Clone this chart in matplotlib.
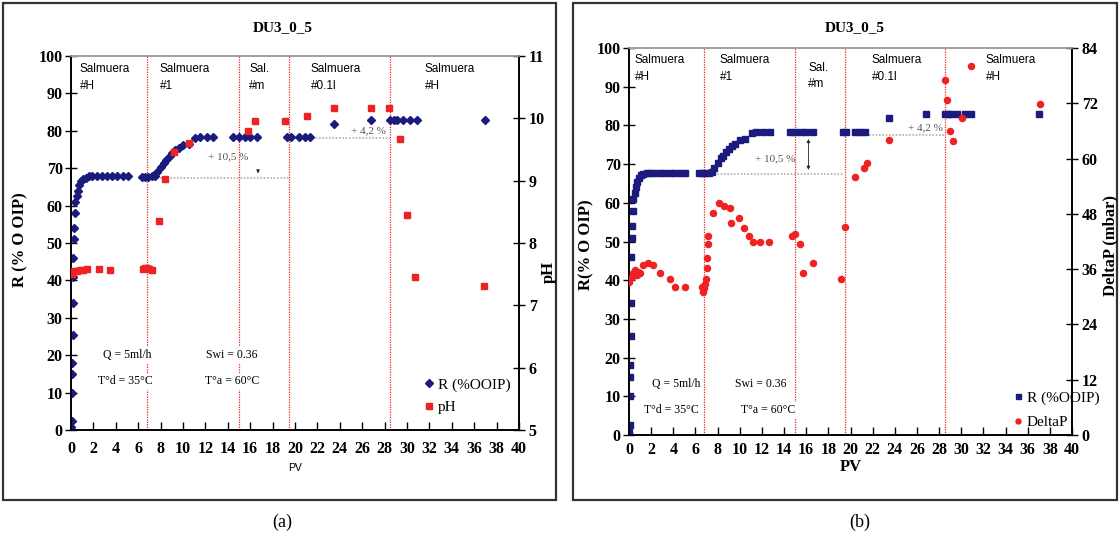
import matplotlib
matplotlib.use("Agg")
import matplotlib.pyplot as plt
from matplotlib.patches import Rectangle
from matplotlib.lines import Line2D

# ---------------- data ----------------
# Oil recovery R (%OOIP) vs injected pore volumes
pv_r = [0.0, 0.02, 0.05, 0.08, 0.1, 0.12, 0.15, 0.18, 0.2, 0.22, 0.25, 0.3, 0.35,
        0.4, 0.5, 0.6, 0.75, 0.9, 1.1, 1.3, 1.6, 1.9, 2.3, 2.8, 3.2, 3.7, 4.1, 4.6, 5.1,
        6.3, 6.6, 6.9, 7.2, 7.5, 7.7, 8.0, 8.3, 8.5, 8.8, 9.0, 9.3, 9.6, 10.0, 10.5,
        11.1, 11.5, 12.1, 12.7,
        14.5, 15.0, 15.5, 16.0, 16.6,
        19.3, 19.6, 20.4, 20.9, 21.3,
        23.5, 26.8, 28.5, 28.8, 29.1, 29.6, 30.3, 30.9, 37.0]
r_ooip = [0.0, 0.8, 2.5, 10.0, 15.0, 18.0, 25.5, 34.0, 41.0, 46.0, 51.0, 54.0, 58.0,
          61.0, 62.5, 64.0, 65.5, 66.5, 67.2, 67.5, 67.8, 67.8, 67.8, 67.8, 67.8, 67.8, 67.8, 67.8, 67.8,
          67.6, 67.6, 67.7, 67.8, 68.0, 69.0, 70.4, 71.5, 72.2, 73.2, 74.0, 74.8, 75.3, 76.2, 76.6,
          78.0, 78.3, 78.3, 78.3,
          78.4, 78.4, 78.4, 78.4, 78.4,
          78.4, 78.4, 78.4, 78.4, 78.4,
          81.8, 82.9, 82.9, 82.9, 82.9, 82.9, 82.9, 82.9, 82.9]

# Effluent pH
pv_ph = [0.1, 0.3, 0.5, 0.8, 1.1, 1.4, 2.5, 3.5, 6.4, 6.6, 6.8, 7.0, 7.2,
         7.9, 8.4, 9.2, 10.5, 15.8, 16.4, 19.1, 21.1, 23.5, 26.8, 28.4,
         29.4, 30.0, 30.7, 36.9]
ph = [7.50, 7.55, 7.55, 7.56, 7.57, 7.58, 7.58, 7.56, 7.58, 7.60, 7.60, 7.58, 7.56,
      8.35, 9.02, 9.46, 9.60, 9.80, 9.95, 9.95, 10.03, 10.17, 10.17, 10.17,
      9.67, 8.45, 7.45, 7.31]

# Pressure drop DeltaP (mbar)
pv_dp = [0.03, 0.24, 0.39, 0.54, 0.69, 0.84, 0.99, 1.29, 1.74, 2.19, 2.80, 3.70, 4.15, 5.06,
         6.6, 6.7, 6.8, 6.9, 6.95, 7.0, 7.0, 7.1, 7.1,
         7.6, 8.1, 8.6, 9.1, 9.2, 9.9, 10.4, 10.8, 11.2, 11.8, 12.6,
         14.7, 15.0, 15.4, 15.7, 16.6,
         19.1, 19.5, 20.4, 21.2, 21.5, 23.5,
         28.5, 28.7, 29.0, 29.3, 30.1, 30.9, 37.1]
delta_p = [33.3, 34.4, 35.1, 35.9, 34.7, 35.4, 35.1, 37.0, 37.3, 37.0, 35.1, 33.9, 32.1, 32.1,
           32.1, 31.0, 31.8, 32.8, 33.9, 36.2, 38.5, 41.4, 43.3,
           48.2, 50.4, 49.7, 49.3, 46.0, 47.1, 45.0, 43.1, 42.0, 42.0, 42.0,
           43.3, 43.7, 41.4, 35.1, 37.3,
           33.9, 45.2, 56.0, 57.9, 59.0, 64.0,
           77.0, 72.7, 66.0, 63.9, 68.7, 80.0, 71.8]

# Brine stage boundaries (PV) and stage names
stage_bounds = [6.8, 15.0, 19.5, 28.5]
stage_names = ["Salmuera\n#H", "Salmuera\n#1", "Sal.\n#m", "Salmuera\n#0.1l", "Salmuera\n#H"]

x_ticks = list(range(0, 41, 2))
r_ticks = list(range(0, 101, 10))
ph_ticks = [5, 6, 7, 8, 9, 10, 11]
dp_ticks = [0, 12, 24, 36, 48, 60, 72, 84]

# ---------------- styling ----------------
W, H = 1120, 537
BLUE = "#1b1b7d"
RED = "#ee2222"
SERIF = "Liberation Serif"
SANS = "Liberation Sans"

fig = plt.figure(figsize=(W / 100, H / 100), dpi=100)
fig.patch.set_facecolor("white")


def fx(px):
    return px / W


def fy(py):
    return 1 - py / H


# panel frames
for x0, x1 in [(3, 556), (573, 1117)]:
    fig.patches.append(Rectangle((fx(x0), fy(500)), fx(x1) - fx(x0), fy(3) - fy(500),
                                 transform=fig.transFigure, fill=False,
                                 edgecolor="#333333", linewidth=1.6, zorder=0))


def style_axes(ax, ax2, right_ticks, xpad):
    ax.set_xlim(0, 40)
    ax.set_ylim(0, 100)
    ax.set_xticks(x_ticks)
    ax.set_yticks(r_ticks)
    ax2.set_yticks(right_ticks)
    for a in (ax, ax2):
        a.spines["top"].set_color("#a0a0a0")
        a.spines["top"].set_linewidth(1.2)
        a.spines["left"].set_linewidth(1.2)
        a.spines["right"].set_linewidth(1.2)
        a.spines["bottom"].set_linewidth(1.2)
    ax.tick_params(axis="y", direction="inout", length=8, width=1, pad=2)
    ax.tick_params(axis="x", direction="in", length=6, width=1, pad=xpad)
    ax2.tick_params(axis="y", direction="inout", length=8, width=1, pad=3)
    for lab in ax.get_xticklabels() + ax.get_yticklabels() + ax2.get_yticklabels():
        lab.set_fontfamily(SERIF)
        lab.set_fontweight("bold")
        lab.set_fontsize(11.5)
    for b in stage_bounds:
        ax.axvline(b, color=RED, linestyle=(0, (1, 1)), linewidth=0.9, zorder=1)


def stage_labels(ax, xs, ytop):
    for x, name, y in zip(xs, stage_names, ytop):
        ax.text(x, y, name, fontfamily=SANS, fontsize=8.5, va="top", ha="left",
                linespacing=1.55, zorder=5)


def conditions(ax, xq, xs, y1, xt, y2):
    kw = dict(fontfamily=SERIF, fontsize=8.5, va="center", ha="left", zorder=6,
              bbox=dict(facecolor="white", edgecolor="none", pad=1.5))
    ax.text(xq[0], y1, "Q = 5ml/h", **kw)
    ax.text(xs, y1, "Swi = 0.36", **kw)
    ax.text(xt[0], y2, "T°d = 35°C", **kw)
    ax.text(xt[1], y2, "T°a = 60°C", **kw)


# ---------------- panel (a): R and pH ----------------
axa = fig.add_axes([fx(71), fy(430), fx(519) - fx(71), fy(56) - fy(430)])
axa2 = axa.twinx()
axa2.set_ylim(5, 11)
style_axes(axa, axa2, ph_ticks, 8)

axa.plot([6.8, 19.5], [67.5, 67.5], color="#b0b0b0", ls=(0, (1, 1)), lw=1.2, zorder=2)
axa.plot([19.5, 28.5], [78.2, 78.2], color="#b0b0b0", ls=(0, (1, 1)), lw=1.2, zorder=2)
axa.annotate("", xy=(16.7, 67.9), xytext=(16.7, 70.0),
             arrowprops=dict(arrowstyle="-|>", color="#222222", lw=0.5, mutation_scale=5))
axa.text(14.0, 73.0, "+ 10,5 %", fontfamily=SERIF, fontsize=8, color="#555555",
         ha="center", va="center", zorder=2)
axa.text(26.6, 80.0, "+ 4,2 %", fontfamily=SERIF, fontsize=8, color="#555555",
         ha="center", va="center", zorder=2)

axa.plot(pv_r, r_ooip, ls="none", marker="D", ms=3.6, color=BLUE, zorder=4,
         label="R (%OOIP)")
axa2.plot(pv_ph, ph, ls="none", marker="s", ms=5, color=RED, zorder=3, label="pH")

stage_labels(axa, [0.8, 7.9, 15.9, 21.4, 31.6], [98, 98, 98, 98, 98])
conditions(axa, [2.9], 12.05, 20.0, [2.4, 12.0], 13.0)

handles_a = [Line2D([], [], ls="none", marker="D", ms=3.6, color=BLUE),
             Line2D([], [], ls="none", marker="s", ms=4.5, color=RED)]
fig.legend(handles_a, ["R (%OOIP)", "pH"], loc="upper left",
           bbox_to_anchor=(fx(418), fy(372)), frameon=False,
           prop=dict(family=SERIF, size=11), handlelength=0.6,
           handletextpad=0.3, labelspacing=0.55, borderaxespad=0)

axa.set_xlabel("PV", fontfamily=SANS, fontsize=7.5, labelpad=4)
fig.text(fx(20), fy(240), "R (% O OIP)", rotation=90, fontfamily=SERIF,
         fontsize=12, fontweight="bold", ha="center", va="center")
fig.text(fx(549), fy(272), "pH", rotation=90, fontfamily=SERIF,
         fontsize=12, fontweight="bold", ha="center", va="center")
fig.text(fx(283), fy(28), "DU3_0_5", fontfamily=SERIF, fontsize=11,
         fontweight="bold", ha="center", va="center")
fig.text(fx(282), fy(522), "(a)", fontfamily=SERIF, fontsize=13,
         ha="center", va="center")

# ---------------- panel (b): R and DeltaP ----------------
axb = fig.add_axes([fx(629), fy(435), fx(1072) - fx(629), fy(48) - fy(435)])
axb2 = axb.twinx()
axb2.set_ylim(0, 84)
style_axes(axb, axb2, dp_ticks, 5)

axb.plot([6.8, 19.4], [67.5, 67.5], color="#b0b0b0", ls=(0, (1, 1)), lw=1.2, zorder=2)
axb.plot([21.7, 28.5], [77.6, 77.6], color="#b0b0b0", ls=(0, (1, 1)), lw=1.2, zorder=2)
axb.annotate("", xy=(16.2, 67.8), xytext=(16.2, 77.2),
             arrowprops=dict(arrowstyle="<|-|>", color="#222222", lw=0.6, mutation_scale=5))
axb.text(13.2, 71.5, "+ 10,5 %", fontfamily=SERIF, fontsize=8, color="#555555",
         ha="center", va="center", zorder=2)
axb.text(26.8, 79.5, "+ 4,2 %", fontfamily=SERIF, fontsize=8, color="#555555",
         ha="center", va="center", zorder=2)

axb.plot(pv_r, r_ooip, ls="none", marker="s", ms=4.4, color=BLUE, zorder=4)
axb2.plot(pv_dp, delta_p, ls="none", marker="o", ms=4.4, color=RED, zorder=3)

stage_labels(axb, [0.5, 8.2, 16.2, 21.9, 32.2], [98.5, 98.5, 96.5, 98.5, 98.5])
conditions(axb, [2.1], 9.6, 13.2, [1.35, 10.1], 6.5)

handles_b = [Line2D([], [], ls="none", marker="s", ms=3.6, color=BLUE),
             Line2D([], [], ls="none", marker="o", ms=3.6, color=RED)]
fig.legend(handles_b, ["R (%OOIP)", "DeltaP"], loc="upper left",
           bbox_to_anchor=(fx(1007), fy(385)), frameon=False,
           prop=dict(family=SERIF, size=11), handlelength=0.6,
           handletextpad=0.3, labelspacing=0.7, borderaxespad=0)

axb.set_xlabel("PV", fontfamily=SERIF, fontsize=12, fontweight="bold", labelpad=1)
fig.text(fx(586), fy(245), "R(% O OIP)", rotation=90, fontfamily=SERIF,
         fontsize=12, fontweight="bold", ha="center", va="center")
fig.text(fx(1110), fy(245), "DeltaP (mbar)", rotation=90, fontfamily=SERIF,
         fontsize=12, fontweight="bold", ha="center", va="center")
fig.text(fx(855), fy(28), "DU3_0_5", fontfamily=SERIF, fontsize=11,
         fontweight="bold", ha="center", va="center")
fig.text(fx(860), fy(522), "(b)", fontfamily=SERIF, fontsize=13,
         ha="center", va="center")

fig.savefig("out.png", dpi=100, facecolor="white")
